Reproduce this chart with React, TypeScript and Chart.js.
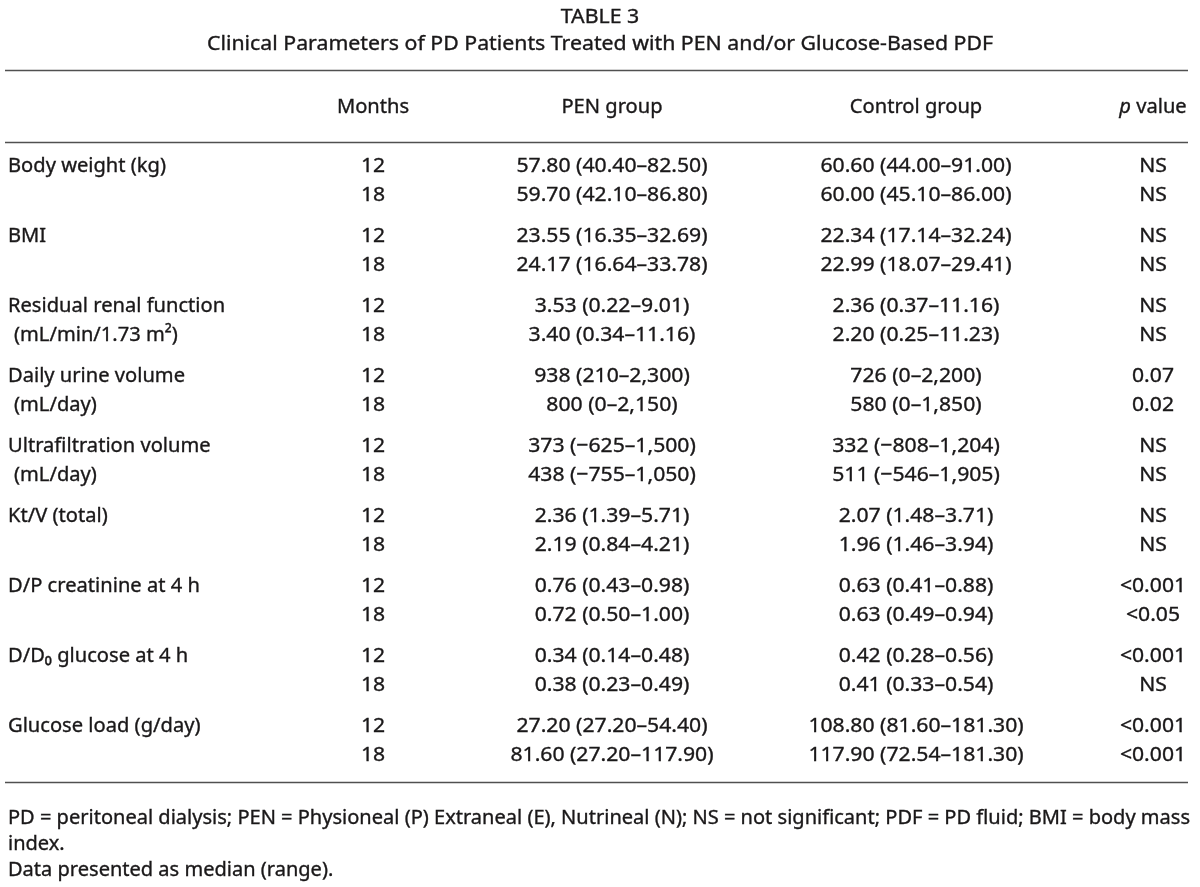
import React, { useEffect, useRef } from "react";
import { Chart, registerables } from "chart.js";

Chart.register(...registerables);

// ---------- data ----------
const tableNumber = "TABLE 3";
const tableTitle = "Clinical Parameters of PD Patients Treated with PEN and/or Glucose-Based PDF";
const columnHeaders = ["Months", "PEN group", "Control group", "p value"];
const parameterNames = [
  "Body weight (kg)",
  "BMI",
  "Residual renal function",
  "Daily urine volume",
  "Ultrafiltration volume",
  "Kt/V (total)",
  "D/P creatinine at 4 h",
  "D/D\u2080 glucose at 4 h",
  "Glucose load (g/day)",
];
const parameterUnits = ["", "", "(mL/min/1.73 m\u00B2)", "(mL/day)", "(mL/day)", "", "", "", ""];
const months = ["12", "18"];
const penGroup12 = [
  "57.80 (40.40–82.50)",
  "23.55 (16.35–32.69)",
  "3.53 (0.22–9.01)",
  "938 (210–2,300)",
  "373 (−625–1,500)",
  "2.36 (1.39–5.71)",
  "0.76 (0.43–0.98)",
  "0.34 (0.14–0.48)",
  "27.20 (27.20–54.40)",
];
const penGroup18 = [
  "59.70 (42.10–86.80)",
  "24.17 (16.64–33.78)",
  "3.40 (0.34–11.16)",
  "800 (0–2,150)",
  "438 (−755–1,050)",
  "2.19 (0.84–4.21)",
  "0.72 (0.50–1.00)",
  "0.38 (0.23–0.49)",
  "81.60 (27.20–117.90)",
];
const controlGroup12 = [
  "60.60 (44.00–91.00)",
  "22.34 (17.14–32.24)",
  "2.36 (0.37–11.16)",
  "726 (0–2,200)",
  "332 (−808–1,204)",
  "2.07 (1.48–3.71)",
  "0.63 (0.41–0.88)",
  "0.42 (0.28–0.56)",
  "108.80 (81.60–181.30)",
];
const controlGroup18 = [
  "60.00 (45.10–86.00)",
  "22.99 (18.07–29.41)",
  "2.20 (0.25–11.23)",
  "580 (0–1,850)",
  "511 (−546–1,905)",
  "1.96 (1.46–3.94)",
  "0.63 (0.49–0.94)",
  "0.41 (0.33–0.54)",
  "117.90 (72.54–181.30)",
];
const pValue12 = ["NS", "NS", "NS", "0.07", "NS", "NS", "<0.001", "<0.001", "<0.001"];
const pValue18 = ["NS", "NS", "NS", "0.02", "NS", "NS", "<0.05", "NS", "<0.001"];
const footnotes = [
  "PD = peritoneal dialysis; PEN = Physioneal (P) Extraneal (E), Nutrineal (N); NS = not significant; PDF = PD fluid; BMI = body mass",
  "index.",
  "Data presented as median (range).",
];

// ---------- layout (style) ----------
const W = 1200;
const H = 887;
const GROUP_STEP = 2.414; // group pitch in row units
const Y_MIN = -5.69;
const Y_MAX = 24.897;
const TITLE_Y = [-5.138, -4.207];
const HEADER_Y = -2.034;
const RULES_Y = [-3.276, -0.793, 21.276];
const FOOT_Y = [22.483, 23.379, 24.276];
const X = { label: 8, unit: 14, months: 373, pen: 612, control: 916, p: 1153, title: 600, ruleL: 5, ruleR: 1188 };
const FONT_FAMILY = '"Noto Sans", "Open Sans", sans-serif';
const FONT_SIZE = 20;
const TEXT_COLOR = "#1a1819";
const RULE_COLOR = "#505050";
const TEXT_DY = 1;

const rowY = (g: number, r: number) => g * GROUP_STEP + r;

type Cell = { x: number; y: number; text: string; italicFirst?: boolean };

function buildCells() {
  const labels: Cell[] = [];
  const units: Cell[] = [];
  const monthCells: Cell[] = [];
  const pen: Cell[] = [];
  const ctrl: Cell[] = [];
  const pv: Cell[] = [];
  parameterNames.forEach((name, g) => {
    labels.push({ x: X.label, y: rowY(g, 0), text: name });
    if (parameterUnits[g]) units.push({ x: X.unit, y: rowY(g, 1), text: parameterUnits[g] });
    months.forEach((m, r) => monthCells.push({ x: X.months, y: rowY(g, r), text: m }));
    pen.push({ x: X.pen, y: rowY(g, 0), text: penGroup12[g] });
    pen.push({ x: X.pen, y: rowY(g, 1), text: penGroup18[g] });
    ctrl.push({ x: X.control, y: rowY(g, 0), text: controlGroup12[g] });
    ctrl.push({ x: X.control, y: rowY(g, 1), text: controlGroup18[g] });
    pv.push({ x: X.p, y: rowY(g, 0), text: pValue12[g] });
    pv.push({ x: X.p, y: rowY(g, 1), text: pValue18[g] });
  });
  const headers: Cell[] = [
    { x: X.months, y: HEADER_Y, text: columnHeaders[0] },
    { x: X.pen, y: HEADER_Y, text: columnHeaders[1] },
    { x: X.control, y: HEADER_Y, text: columnHeaders[2] },
  ];
  const pHeader: Cell[] = [{ x: X.p, y: HEADER_Y, text: columnHeaders[3], italicFirst: true }];
  const titles: Cell[] = [
    { x: X.title, y: TITLE_Y[0], text: tableNumber },
    { x: X.title, y: TITLE_Y[1], text: tableTitle },
  ];
  const foot: Cell[] = footnotes.map((t, i) => ({ x: X.label, y: FOOT_Y[i], text: t }));
  return [
    { key: "labels", data: labels, align: "left", kind: "body" },
    { key: "units", data: units, align: "left", kind: "body" },
    { key: "months", data: monthCells, align: "center", kind: "num" },
    { key: "pen", data: pen, align: "center", kind: "num" },
    { key: "control", data: ctrl, align: "center", kind: "num" },
    { key: "p", data: pv, align: "center", kind: "num" },
    { key: "headers", data: headers, align: "center", kind: "body" },
    { key: "pheader", data: pHeader, align: "center", kind: "body" },
    { key: "titles", data: titles, align: "center", kind: "title" },
    { key: "foot", data: foot, align: "left", kind: "foot" },
  ];
}

const tablePlugin = {
  id: "tableText",
  afterDatasetsDraw(chart: any) {
    const ctx: CanvasRenderingContext2D = chart.ctx;
    const ys = chart.scales.y;
    const xs = chart.scales.x;
    ctx.save();
    ctx.strokeStyle = RULE_COLOR;
    ctx.lineWidth = 1.5;
    RULES_Y.forEach((v) => {
      const py = Math.round(ys.getPixelForValue(v)) + 0.5;
      ctx.beginPath();
      ctx.moveTo(xs.getPixelForValue(X.ruleL), py);
      ctx.lineTo(xs.getPixelForValue(X.ruleR), py);
      ctx.stroke();
    });
    ctx.font = `${FONT_SIZE}px ${FONT_FAMILY}`;
    const sxBody = 158 / ctx.measureText(parameterNames[0]).width;
    const sxNum = 191 / ctx.measureText(penGroup12[0]).width;
    const sxTitle = 786 / ctx.measureText(tableTitle).width;
    const sxFoot = 1182 / ctx.measureText(footnotes[0]).width;
    ctx.fillStyle = TEXT_COLOR;
    ctx.strokeStyle = TEXT_COLOR;
    ctx.lineWidth = 0.35;
    ctx.textBaseline = "middle";
    ctx.textAlign = "left";
    chart.data.datasets.forEach((ds: any, i: number) => {
      const meta = chart.getDatasetMeta(i);
      const sx =
        ds.kind === "title" ? sxTitle : ds.kind === "foot" ? sxFoot : ds.kind === "num" ? sxNum : sxBody;
      meta.data.forEach((el: any, j: number) => {
        const cell: Cell = ds.data[j];
        const segs: { t: string; it: boolean }[] = cell.italicFirst
          ? [
              { t: cell.text.slice(0, 1), it: true },
              { t: cell.text.slice(1), it: false },
            ]
          : [{ t: cell.text, it: false }];
        const widths = segs.map((s) => {
          ctx.font = `${s.it ? "italic " : ""}${FONT_SIZE}px ${FONT_FAMILY}`;
          return ctx.measureText(s.t).width;
        });
        const total = widths.reduce((a, b) => a + b, 0) * sx;
        let startX = el.x;
        if (ds.align === "center") startX = el.x - total / 2;
        else if (ds.align === "right") startX = el.x - total;
        ctx.save();
        ctx.translate(startX, el.y + TEXT_DY);
        ctx.scale(sx, 1);
        let cx = 0;
        segs.forEach((s, k) => {
          ctx.font = `${s.it ? "italic " : ""}${FONT_SIZE}px ${FONT_FAMILY}`;
          ctx.fillText(s.t, cx, 0);
          ctx.strokeText(s.t, cx, 0);
          cx += widths[k];
        });
        ctx.restore();
      });
    });
    ctx.restore();
  },
};

export default function App() {
  const ref = useRef<HTMLCanvasElement | null>(null);
  useEffect(() => {
    document.body.style.margin = "0";
    document.body.style.background = "#ffffff";
    const sets = buildCells();
    const chart = new Chart(ref.current as HTMLCanvasElement, {
      type: "scatter",
      data: {
        datasets: sets.map((s) => ({
          label: s.key,
          data: s.data,
          align: s.align,
          kind: s.kind,
          pointRadius: 0,
          pointHoverRadius: 0,
          showLine: false,
        })) as any,
      },
      options: {
        responsive: false,
        animation: false,
        events: [],
        layout: { padding: 0 },
        plugins: { legend: { display: false }, tooltip: { enabled: false }, title: { display: false } },
        scales: {
          x: { type: "linear", min: 0, max: W, display: false },
          y: { type: "linear", min: Y_MIN, max: Y_MAX, reverse: true, display: false },
        },
      },
      plugins: [tablePlugin],
    });
    return () => chart.destroy();
  }, []);
  return (
    <div style={{ width: W, height: H, background: "#fff" }}>
      <canvas ref={ref} width={W} height={H} style={{ display: "block", width: W, height: H }} />
    </div>
  );
}
